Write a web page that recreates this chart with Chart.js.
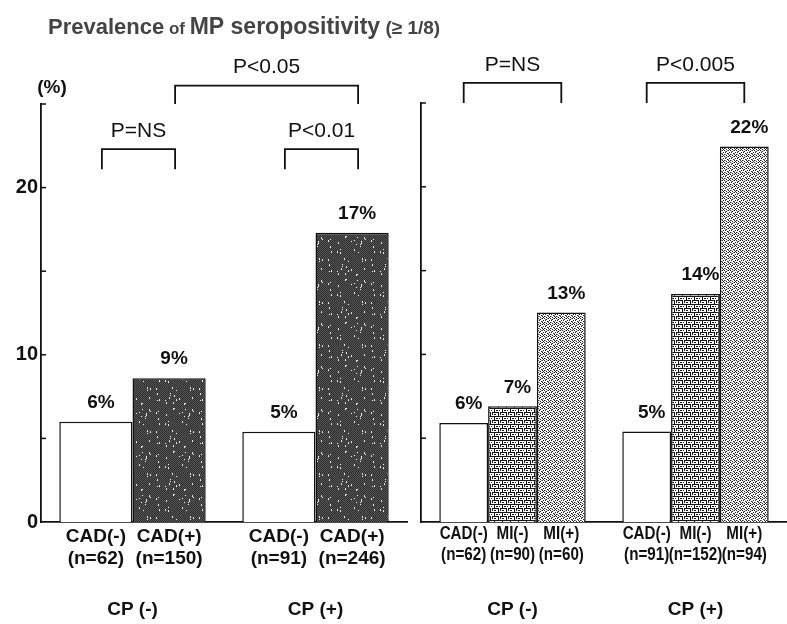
<!DOCTYPE html>
<html lang="en">
<head>
<meta charset="UTF-8">
<title>Prevalence of MP seropositivity</title>
<script src="https://cdn.jsdelivr.net/npm/chart.js"></script>
<style>
    body { margin: 0; background: #fff; }
    #wrap { position: relative; width: 787px; height: 624px; overflow: hidden; }
    canvas { position: absolute; top: 0; }
    #leftChart { left: 0; }
    #rightChart { left: 380px; }
</style>
</head>
<body>
<div id="wrap">
    <canvas id="leftChart" width="787" height="624"></canvas>
    <canvas id="rightChart" width="407" height="624"></canvas>
</div>
<script>
    // groups on the x axis (both panels)
    const groups = ['CP (-)', 'CP (+)'];

    // left panel: CAD(-) vs CAD(+)
    const leftCadNeg = [6.0, 5.4];
    const leftCadPos = [8.6, 17.3];
    const leftCadNegText = ['6%', '5%'];
    const leftCadPosText = ['9%', '17%'];
    const leftCadNegN = ['(n=62)', '(n=91)'];
    const leftCadPosN = ['(n=150)', '(n=246)'];

    // right panel: CAD(-), MI(-), MI(+)
    const rightCadNeg = [5.9, 5.4];
    const rightMiNeg = [6.9, 13.6];
    const rightMiPos = [12.5, 22.4];
    const rightCadNegText = ['6%', '5%'];
    const rightMiNegText = ['7%', '14%'];
    const rightMiPosText = ['13%', '22%'];
    const rightCadNegN = ['(n=62)', '(n=91)'];
    const rightMiNegN = ['(n=90)', '(n=152)'];
    const rightMiPosN = ['(n=60)', '(n=94)'];

    // y axis
    const yMax = 25;
    const yStep = 5;
    const yLabelled = [0, 10, 20];

    const FONT = "'Liberation Sans', Arial, Helvetica, sans-serif";
    const f = (size, bold = true) => (bold ? 'bold ' : '') + size + 'px ' + FONT;

    // small fill textures for the shaded bars
    function makePattern(size, paint) {
        const c = document.createElement('canvas');
        c.width = size; c.height = size;
        const g = c.getContext('2d');
        paint(g, size);
        return g.createPattern(c, 'repeat');
    }
    const speck = (x, y) => (x * x * 7 + y * y * 13 + x * y * 5 + x * 3) % 43;
    const darkFill = makePattern(43, (g, s) => {
        g.fillStyle = '#2e2e2e'; g.fillRect(0, 0, s, s);
        for (let y = 0; y < s; y++) for (let x = 0; x < s; x++) {
            if ((x + y) % 2 === 0) { g.fillStyle = '#555'; g.fillRect(x, y, 1, 1); }
            if (speck(x, y) === 0) { g.fillStyle = '#e6e6e6'; g.fillRect(x, y, 1, 2); }
        }
    });
    const gridFill = makePattern(8, (g, s) => {
        g.fillStyle = '#fff'; g.fillRect(0, 0, s, s);
        g.fillStyle = '#151515';
        g.fillRect(0, 0, 8, 1); g.fillRect(0, 4, 7, 1);
        g.fillRect(2, 1, 1, 3); g.fillRect(6, 5, 1, 3); g.fillRect(0, 5, 1, 2);
        g.fillRect(4, 2, 2, 1); g.fillRect(2, 6, 2, 1); g.fillRect(7, 2, 1, 1);
    });
    const dotFill = makePattern(6, (g, s) => {
        g.fillStyle = '#fff'; g.fillRect(0, 0, s, s);
        g.fillStyle = '#222';
        [[0,0],[2,0],[4,1],[1,2],[3,2],[5,3],[0,4],[2,4],[4,5],[1,5]].forEach(p => g.fillRect(p[0], p[1], 1, 1));
        g.fillStyle = '#888';
        [[5,0],[3,1],[0,3],[3,4]].forEach(p => g.fillRect(p[0], p[1], 1, 1));
    });

    // centred text, optionally squeezed horizontally
    function squeezeText(ctx, text, x, y, sx) {
        ctx.save();
        ctx.translate(x, y);
        ctx.scale(sx, 1);
        ctx.fillText(text, 0, 0);
        ctx.restore();
    }

    // text, brackets and inward ticks
    const annotate = {
        id: 'annotate',
        afterDraw(chart, args, o) {
            const ctx = chart.ctx;
            const ys = chart.scales.y;
            const area = chart.chartArea;
            ctx.save();
            ctx.fillStyle = '#111';
            ctx.strokeStyle = '#111';

            // ticks pointing into the plot
            ctx.lineWidth = 1.5;
            ys.ticks.forEach(t => {
                if (t.value <= 0) return;
                const py = ys.getPixelForValue(t.value);
                ctx.beginPath();
                ctx.moveTo(area.left, py);
                ctx.lineTo(area.left + 5, py);
                ctx.stroke();
            });

            // values above bars, names and n below
            ctx.textAlign = 'center';
            ctx.textBaseline = 'middle';
            chart.data.datasets.forEach((ds, di) => {
                chart.getDatasetMeta(di).data.forEach((bar, i) => {
                    ctx.font = f(o.valueSize);
                    ctx.fillText(ds.valueText[i], bar.x + 5, bar.y - 19);
                    ctx.font = f(o.catSize);
                    squeezeText(ctx, ds.label, bar.x, area.bottom + o.catY[0], o.squeeze);
                    squeezeText(ctx, ds.nText[i], bar.x, area.bottom + o.catY[1], o.squeeze);
                });
            });

            // significance brackets
            ctx.lineWidth = 1.8;
            o.brackets.forEach(b => {
                const xa = chart.getDatasetMeta(b.a[0]).data[b.a[1]].x + o.shift;
                const xb = chart.getDatasetMeta(b.b[0]).data[b.b[1]].x + o.shift;
                const yt = ys.getPixelForValue(b.top);
                const yf = ys.getPixelForValue(b.foot);
                ctx.beginPath();
                ctx.moveTo(xa, yf); ctx.lineTo(xa, yt); ctx.lineTo(xb, yt); ctx.lineTo(xb, yf);
                ctx.stroke();
                ctx.font = f(21, false);
                ctx.fillText(b.text, (xa + xb) / 2, yt - 18);
            });

            if (o.title) {
                ctx.textAlign = 'left';
                ctx.textBaseline = 'alphabetic';
                ctx.fillStyle = '#444';
                let x = 48;
                o.title.forEach(part => {
                    ctx.font = f(part[1]);
                    ctx.fillText(part[0], x, 34);
                    x += ctx.measureText(part[0]).width;
                });
                ctx.fillStyle = '#111';
                ctx.textAlign = 'center';
                ctx.textBaseline = 'middle';
                ctx.font = f(19);
                ctx.fillText('(%)', 52, 88);
            }
            ctx.restore();
        }
    };

    function yAxis(showLabels, width) {
        return {
            min: 0,
            max: yMax,
            grid: { display: false, drawTicks: false },
            border: { display: true, color: '#111', width: 1.8 },
            ticks: {
                stepSize: yStep,
                display: showLabels,
                padding: 3,
                color: '#111',
                font: { family: FONT, size: 20, weight: 'bold' },
                callback: v => yLabelled.includes(v) ? v : ''
            },
            afterFit: s => { s.width = width; }
        };
    }

    function xAxis() {
        return {
            grid: { display: false, drawTicks: false },
            border: { display: true, color: '#111', width: 1.8 },
            ticks: {
                padding: 76,
                color: '#111',
                font: { family: FONT, size: 19, weight: 'bold' }
            },
            afterFit: s => { s.height = 102; s.paddingLeft = 0; s.paddingRight = 0; }
        };
    }

    const barStyle = { borderColor: '#111', borderWidth: 1.5, barPercentage: 1, categoryPercentage: 0.8 };

    new Chart(document.getElementById('leftChart'), {
        type: 'bar',
        data: {
            labels: groups,
            datasets: [
                { label: 'CAD(-)', data: leftCadNeg, valueText: leftCadNegText, nText: leftCadNegN, backgroundColor: '#fff', ...barStyle },
                { label: 'CAD(+)', data: leftCadPos, valueText: leftCadPosText, nText: leftCadPosN, backgroundColor: darkFill, ...barStyle }
            ]
        },
        options: {
            responsive: false,
            animation: false,
            layout: { padding: { top: 104, right: 380, left: 0, bottom: 0 } },
            plugins: {
                legend: { display: false },
                tooltip: { enabled: false },
                annotate: {
                    valueSize: 19,
                    catSize: 19,
                    squeeze: 1,
                    catY: [15, 37],
                    shift: 6,
                    brackets: [
                        { text: 'P=NS', a: [0, 0], b: [1, 0], top: 22.3, foot: 21.1 },
                        { text: 'P<0.01', a: [0, 1], b: [1, 1], top: 22.3, foot: 21.1 },
                        { text: 'P<0.05', a: [1, 0], b: [1, 1], top: 26.1, foot: 25.0 }
                    ],
                    title: [['Prevalence', 22], [' of ', 17], ['MP seropositivity', 23], [' (\u2265 1/8)', 19]]
                }
            },
            scales: { x: xAxis(), y: yAxis(true, 41) }
        },
        plugins: [annotate]
    });

    new Chart(document.getElementById('rightChart'), {
        type: 'bar',
        data: {
            labels: groups,
            datasets: [
                { label: 'CAD(-)', data: rightCadNeg, valueText: rightCadNegText, nText: rightCadNegN, backgroundColor: '#fff', ...barStyle },
                { label: 'MI(-)', data: rightMiNeg, valueText: rightMiNegText, nText: rightMiNegN, backgroundColor: gridFill, ...barStyle },
                { label: 'MI(+)', data: rightMiPos, valueText: rightMiPosText, nText: rightMiPosN, backgroundColor: dotFill, ...barStyle }
            ]
        },
        options: {
            responsive: false,
            animation: false,
            layout: { padding: { top: 103, right: 0, left: 0, bottom: 0 } },
            plugins: {
                legend: { display: false },
                tooltip: { enabled: false },
                annotate: {
                    valueSize: 19,
                    catSize: 19,
                    squeeze: 0.8,
                    catY: [12, 33],
                    shift: 0,
                    brackets: [
                        { text: 'P=NS', a: [0, 0], b: [2, 0], top: 26.2, foot: 25.0 },
                        { text: 'P<0.005', a: [0, 1], b: [2, 1], top: 26.2, foot: 25.0 }
                    ]
                }
            },
            scales: { x: xAxis(), y: yAxis(false, 41) }
        },
        plugins: [annotate]
    });
</script>
</body>
</html>
